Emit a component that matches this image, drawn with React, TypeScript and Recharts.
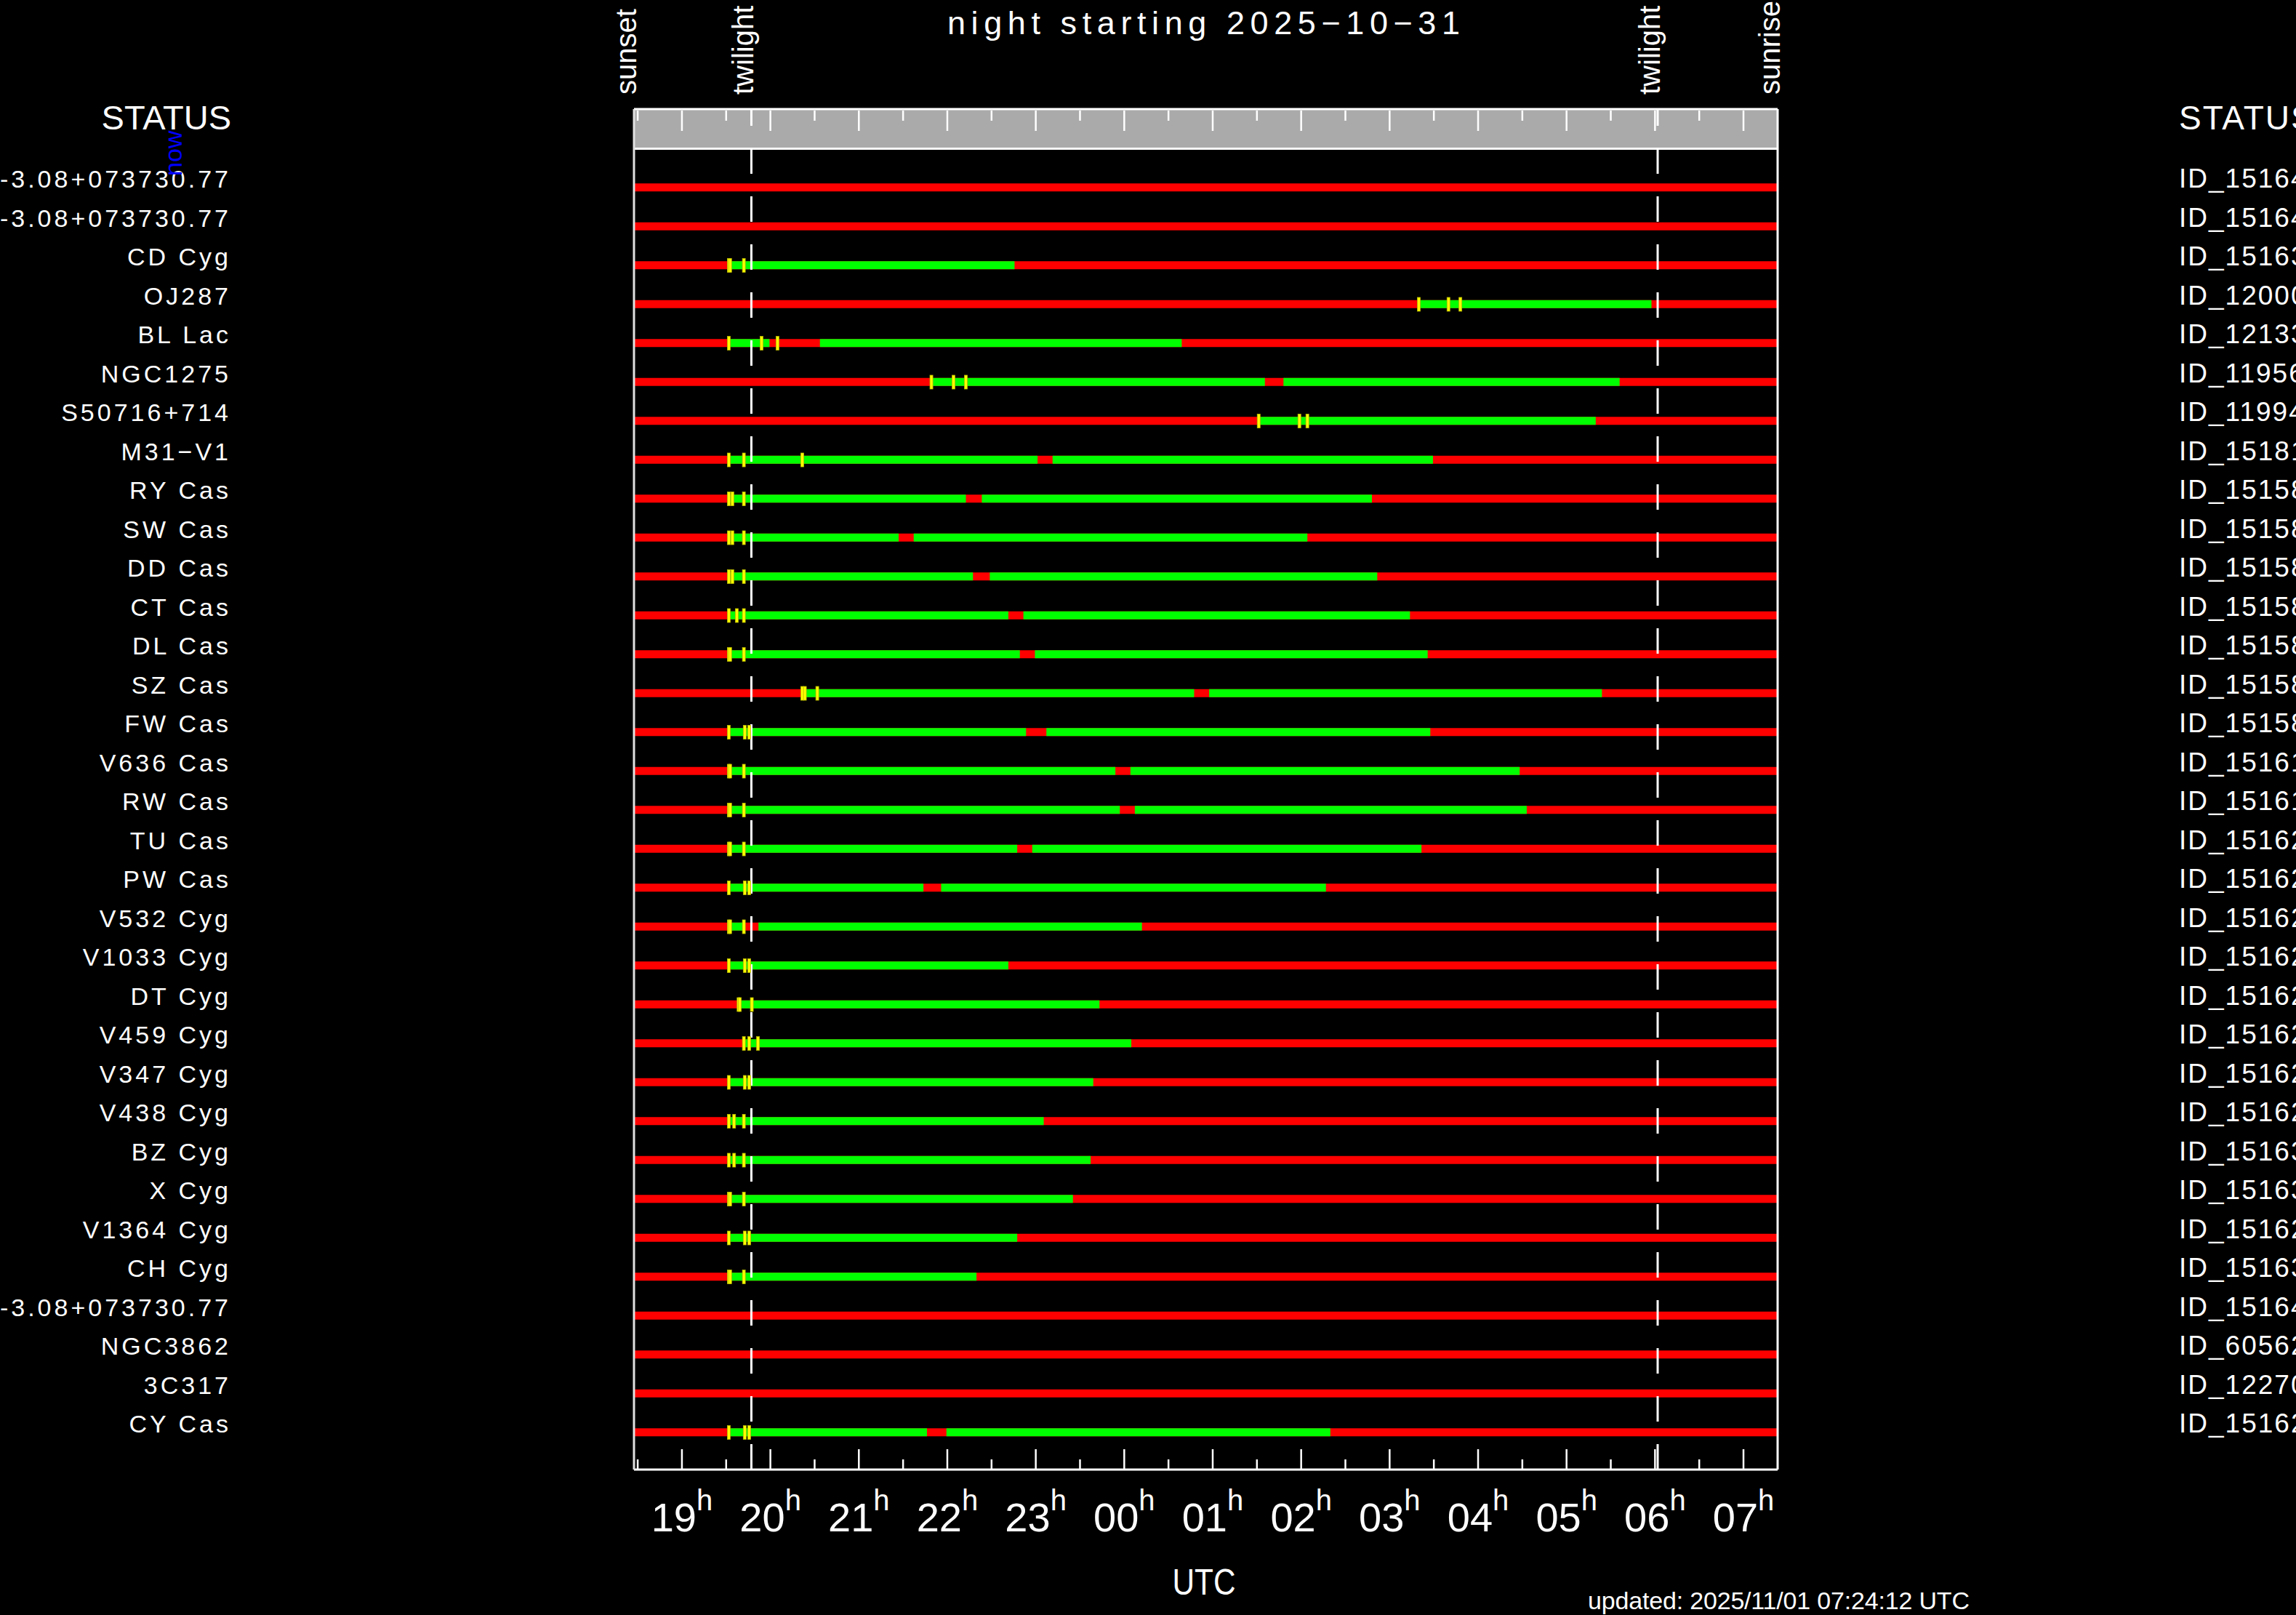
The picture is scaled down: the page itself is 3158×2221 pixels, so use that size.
import React from "react";
import { ComposedChart, Bar, Scatter, XAxis, YAxis, ReferenceLine } from "recharts";

// horas contadas desde 0h de 2025-10-31 (depois da meia-noite => 24+)
const sunset = 18.458;
const twilightEve = 19.785;
const twilightMorn = 30.03;
const sunrise = 31.386;

const targets = [
  "-3.08+073730.77", "-3.08+073730.77", "CD Cyg", "OJ287", "BL Lac", "NGC1275",
  "S50716+714", "M31\u2212V1", "RY Cas", "SW Cas", "DD Cas", "CT Cas", "DL Cas",
  "SZ Cas", "FW Cas", "V636 Cas", "RW Cas", "TU Cas", "PW Cas", "V532 Cyg",
  "V1033 Cyg", "DT Cyg", "V459 Cyg", "V347 Cyg", "V438 Cyg", "BZ Cyg", "X Cyg",
  "V1364 Cyg", "CH Cyg", "-3.08+073730.77", "NGC3862", "3C317", "CY Cas",
];

const ids = [
  "ID_151640", "ID_151641", "ID_151638", "ID_120005", "ID_121336", "ID_119560",
  "ID_119945", "ID_151812", "ID_151583", "ID_151584", "ID_151585", "ID_151586",
  "ID_151587", "ID_151588", "ID_151589", "ID_151610", "ID_151611", "ID_151620",
  "ID_151621", "ID_151622", "ID_151623", "ID_151624", "ID_151625", "ID_151626",
  "ID_151627", "ID_151630", "ID_151631", "ID_151628", "ID_151632", "ID_151642",
  "ID_605620", "ID_122700", "ID_151629",
];

// janelas observáveis (verde), [início, fim] em horas
const windows: [number, number][][] = [
  [],
  [],
  [[19.54, 22.76]],
  [[27.33, 29.96]],
  [[19.53, 19.99], [20.56, 24.65]],
  [[21.81, 25.59], [25.8, 29.6]],
  [[25.52, 29.33]],
  [[19.53, 23.02], [23.19, 27.49]],
  [[19.53, 22.21], [22.39, 26.8]],
  [[19.53, 21.45], [21.62, 26.07]],
  [[19.53, 22.29], [22.48, 26.86]],
  [[19.53, 22.69], [22.86, 27.23]],
  [[19.53, 22.82], [22.99, 27.43]],
  [[20.36, 24.79], [24.96, 29.4]],
  [[19.53, 22.89], [23.12, 27.46]],
  [[19.53, 23.9], [24.07, 28.47]],
  [[19.53, 23.95], [24.12, 28.55]],
  [[19.53, 22.79], [22.96, 27.36]],
  [[19.53, 21.73], [21.93, 26.28]],
  [[19.53, 19.715], [19.865, 24.2]],
  [[19.53, 22.69]],
  [[19.64, 23.72]],
  [[19.7, 24.08]],
  [[19.53, 23.65]],
  [[19.53, 23.09]],
  [[19.53, 23.62]],
  [[19.53, 23.42]],
  [[19.53, 22.79]],
  [[19.53, 22.33]],
  [],
  [],
  [],
  [[19.53, 21.77], [21.99, 26.33]],
];

// marcas amarelas
const markers: number[][] = [
  [],
  [],
  [19.53, 19.545, 19.7],
  [27.33, 27.665, 27.8],
  [19.53, 19.9, 20.08],
  [21.82, 22.07, 22.21],
  [25.52, 25.98, 26.07],
  [19.53, 19.7, 20.36],
  [19.53, 19.57, 19.7],
  [19.53, 19.57, 19.7],
  [19.53, 19.57, 19.7],
  [19.53, 19.62, 19.7],
  [19.53, 19.545, 19.7],
  [20.36, 20.39, 20.53],
  [19.53, 19.71, 19.76],
  [19.53, 19.545, 19.7],
  [19.53, 19.545, 19.7],
  [19.53, 19.545, 19.7],
  [19.53, 19.71, 19.76],
  [19.53, 19.545, 19.7],
  [19.53, 19.71, 19.76],
  [19.64, 19.655, 19.79],
  [19.7, 19.76, 19.86],
  [19.53, 19.71, 19.76],
  [19.53, 19.59, 19.7],
  [19.53, 19.59, 19.7],
  [19.53, 19.545, 19.7],
  [19.53, 19.71, 19.76],
  [19.53, 19.545, 19.7],
  [],
  [],
  [],
  [19.53, 19.71, 19.76],
];

const hourTicks = [19, 20, 21, 22, 23, 24, 25, 26, 27, 28, 29, 30, 31];
const hourLabels = ["19", "20", "21", "22", "23", "00", "01", "02", "03", "04", "05", "06", "07"];
const halfTicks = [18.5, 19.5, 20.5, 21.5, 22.5, 23.5, 24.5, 25.5, 26.5, 27.5, 28.5, 29.5, 30.5];

const FONT = "'Liberation Sans', Arial, sans-serif";
const W = 3158;
const H = 2221;
const PLOT_L = 872;
const PLOT_R = 2445;

const NONE: [number, number] = [sunset, sunset];
const allTicks = [...halfTicks, ...hourTicks].sort((a, b) => a - b);

const rows = targets.map((name, i) => ({
  key: String(i),
  night: [sunset, sunrise],
  g0: windows[i][0] ?? NONE,
  g1: windows[i][1] ?? NONE,
  m0: markers[i][0],
  m1: markers[i][1],
  m2: markers[i][2],
}));

// posição x de um horário (só para os rótulos verticais de fora do gráfico)
const px = (t: number) => PLOT_L + ((t - sunset) * (PLOT_R - PLOT_L)) / (sunrise - sunset);

const BottomTick = (props: any) => {
  const { x, y, payload } = props;
  const v = payload.value as number;
  const idx = hourTicks.indexOf(v);
  const isHour = idx >= 0;
  return (
    <g>
      <line x1={x} x2={x} y1={y} y2={y - (isHour ? 28 : 14)} stroke="#fff" strokeWidth={2.5} />
      {isHour && (
        <text x={x} y={y + 85} textAnchor="middle" fill="#fff" fontFamily={FONT} fontSize={56}>
          {hourLabels[idx]}
          <tspan fontSize={40} dy={-29}>h</tspan>
        </text>
      )}
    </g>
  );
};

const TopTick = (props: any) => {
  const { x, y, payload } = props;
  const isHour = hourTicks.includes(payload.value);
  return <line x1={x} x2={x} y1={y + 2} y2={y + 2 + (isHour ? 28 : 14)} stroke="#fff" strokeWidth={2.5} />;
};

const LeftTick = (props: any) => {
  const { x, y, payload } = props;
  return (
    <text x={x - 554} y={y} textAnchor="end" fill="#fff" fontFamily={FONT} fontSize={34} letterSpacing={4}>
      {targets[Number(payload.value)]}
    </text>
  );
};

const RightTick = (props: any) => {
  const { x, y, payload } = props;
  return (
    <text x={x + 552} y={y} textAnchor="start" fill="#fff" fontFamily={FONT} fontSize={37} letterSpacing={2}>
      {ids[Number(payload.value)]}
    </text>
  );
};

const markerShape = (props: any) => {
  const { cx, cy } = props;
  if (!Number.isFinite(cx) || !Number.isFinite(cy)) return <g />;
  return <rect x={cx - 2} y={cy - 9.5} width={4} height={19} fill="#ffff00" stroke="#b8b800" strokeWidth={0.8} />;
};

const padY = { top: 81.25, bottom: 24.25 };

export default function App() {
  const eventLabels = [
    { t: sunset, text: "sunset" },
    { t: twilightEve, text: "twilight" },
    { t: twilightMorn, text: "twilight" },
    { t: sunrise, text: "sunrise" },
  ];

  return (
    <div style={{ position: "absolute", left: 0, top: 0, width: W, height: H, background: "#000", overflow: "hidden" }}>
      <svg width={W} height={H} style={{ position: "absolute", left: 0, top: 0 }}>
        <rect x={PLOT_L} y={150} width={PLOT_R - PLOT_L} height={54} fill="#aaaaaa" />
        <line x1={PLOT_L} x2={PLOT_R} y1={204.5} y2={204.5} stroke="#fff" strokeWidth={3} />
      </svg>

      <div style={{ position: "absolute", left: 0, top: 0 }}>
        <ComposedChart
          width={W}
          height={H}
          data={rows}
          layout="vertical"
          barSize={11}
          barGap={-11}
          margin={{ top: 149, right: 0, bottom: 0, left: 0 }}
        >
          <XAxis
            xAxisId="bottom"
            type="number"
            orientation="bottom"
            domain={[sunset, sunrise]}
            allowDataOverflow
            ticks={allTicks}
            interval={0}
            height={200}
            tickSize={0}
            tickMargin={0}
            tickLine={false}
            axisLine={{ stroke: "#fff", strokeWidth: 3 }}
            tick={<BottomTick />}
          />
          <XAxis
            xAxisId="top"
            type="number"
            orientation="top"
            domain={[sunset, sunrise]}
            allowDataOverflow
            ticks={allTicks}
            interval={0}
            height={1}
            tickSize={0}
            tickMargin={0}
            tickLine={false}
            axisLine={{ stroke: "#fff", strokeWidth: 3 }}
            tick={<TopTick />}
          />
          <YAxis
            yAxisId="left"
            type="category"
            dataKey="key"
            orientation="left"
            width={PLOT_L}
            interval={0}
            padding={padY}
            tickSize={0}
            tickMargin={0}
            tickLine={false}
            axisLine={{ stroke: "#e0e0e0", strokeWidth: 3 }}
            tick={<LeftTick />}
          />
          <YAxis
            yAxisId="right"
            type="category"
            dataKey="key"
            orientation="right"
            width={W - PLOT_R}
            interval={0}
            padding={padY}
            tickSize={0}
            tickMargin={0}
            tickLine={false}
            axisLine={{ stroke: "#fff", strokeWidth: 3 }}
            tick={<RightTick />}
          />

          <Bar xAxisId="bottom" yAxisId="left" dataKey="night" fill="#ff0000" isAnimationActive={false} />
          <Bar xAxisId="bottom" yAxisId="left" dataKey="g0" fill="#00ff00" isAnimationActive={false} />
          <Bar xAxisId="bottom" yAxisId="left" dataKey="g1" fill="#00ff00" isAnimationActive={false} />

          <ReferenceLine xAxisId="bottom" yAxisId="left" x={twilightEve} stroke="#fff" strokeWidth={3} strokeDasharray="35 31" />
          <ReferenceLine xAxisId="bottom" yAxisId="left" x={twilightMorn} stroke="#fff" strokeWidth={3} strokeDasharray="35 31" />

          <Scatter xAxisId="bottom" yAxisId="left" dataKey="m0" shape={markerShape} isAnimationActive={false} />
          <Scatter xAxisId="bottom" yAxisId="left" dataKey="m1" shape={markerShape} isAnimationActive={false} />
          <Scatter xAxisId="bottom" yAxisId="left" dataKey="m2" shape={markerShape} isAnimationActive={false} />
        </ComposedChart>
      </div>

      <svg width={W} height={H} style={{ position: "absolute", left: 0, top: 0, pointerEvents: "none" }}>
        <text x={1303} y={47} fill="#fff" fontFamily={FONT} fontSize={45} textLength={705} lengthAdjust="spacing">
          night starting 2025{"\u2212"}10{"\u2212"}31
        </text>
        {eventLabels.map((e, i) => (
          <text
            key={i}
            transform={`translate(${px(e.t) + 3},130) rotate(-90)`}
            fill="#fff"
            fontFamily={FONT}
            fontSize={40}
          >
            {e.text}
          </text>
        ))}
        <text x={318} y={178} textAnchor="end" fill="#fff" fontFamily={FONT} fontSize={47}>
          STATUS
        </text>
        <text x={2997} y={178} fill="#fff" fontFamily={FONT} fontSize={46} letterSpacing={2}>
          STATUS
        </text>
        <text transform="translate(250,242) rotate(-90)" fill="#0000ff" fontFamily={FONT} fontSize={34}>
          now
        </text>
        <text x={1656} y={2193} textAnchor="middle" fill="#fff" fontFamily={FONT} fontSize={50} textLength={87} lengthAdjust="spacingAndGlyphs">
          UTC
        </text>
        <text x={2184} y={2213} fill="#fff" fontFamily={FONT} fontSize={34} textLength={525} lengthAdjust="spacing">
          updated: 2025/11/01 07:24:12 UTC
        </text>
      </svg>
    </div>
  );
}
